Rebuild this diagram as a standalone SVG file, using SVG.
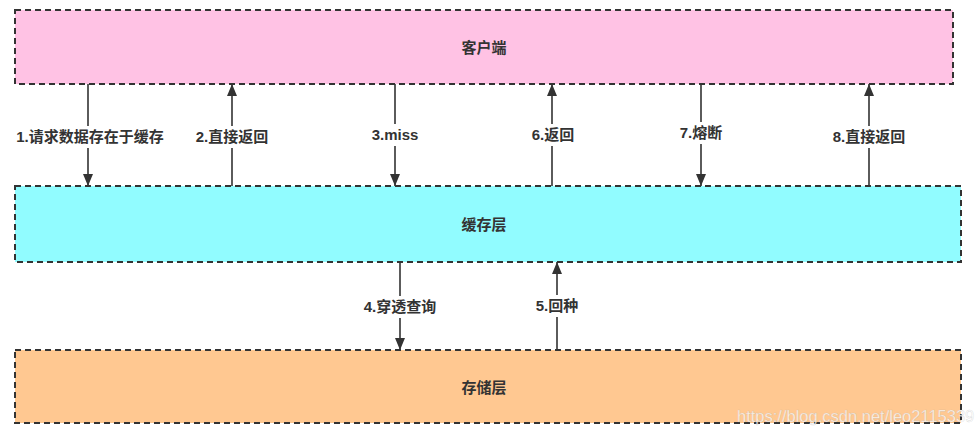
<svg xmlns="http://www.w3.org/2000/svg" width="977" height="436" viewBox="0 0 977 436">
<style>
.box{stroke:#333;stroke-width:2;stroke-dasharray:6 4}
.t{font-family:"Liberation Sans","Noto Sans CJK SC",sans-serif;font-size:15px;font-weight:bold;fill:#333;text-anchor:middle}
.c{stroke:#333;stroke-width:1.6;fill:none}
.lb{fill:#fff}
</style>
<defs>
<marker id="ahl" viewBox="0 0 12 10" refX="12" refY="5" markerWidth="13" markerHeight="10" markerUnits="userSpaceOnUse" orient="auto">
<path d="M0,0 L12,5 L0,10 Z" fill="#333"/>
</marker>
</defs>
<rect width="977" height="436" fill="#fff"/>
<g id="client">
<rect class="box" x="15" y="10" width="938" height="74" fill="#FFC2E4"/>
<text class="t" x="484" y="53">客户端</text>
</g>
<g id="cache">
<rect class="box" x="15" y="186" width="946" height="76" fill="#91FCFF"/>
<text class="t" x="484" y="230">缓存层</text>
</g>
<g id="storage">
<rect class="box" x="15" y="350" width="946" height="73" fill="#FFC891"/>
<text class="t" x="484" y="393">存储层</text>
</g>
<g id="connectors">
<line class="c" x1="88" y1="84" x2="88" y2="186" marker-end="url(#ahl)"/>
<line class="c" x1="232" y1="186" x2="232" y2="84" marker-end="url(#ahl)"/>
<line class="c" x1="395" y1="84" x2="395" y2="186" marker-end="url(#ahl)"/>
<line class="c" x1="552" y1="186" x2="552" y2="84" marker-end="url(#ahl)"/>
<line class="c" x1="701" y1="84" x2="701" y2="186" marker-end="url(#ahl)"/>
<line class="c" x1="869" y1="186" x2="869" y2="84" marker-end="url(#ahl)"/>
<line class="c" x1="400" y1="262" x2="400" y2="350" marker-end="url(#ahl)"/>
<line class="c" x1="557" y1="350" x2="557" y2="262" marker-end="url(#ahl)"/>
<rect class="lb" x="12" y="126" width="156" height="22"/>
<text class="t" x="90" y="142">1.请求数据存在于缓存</text>
<rect class="lb" x="193" y="126" width="78" height="22"/>
<text class="t" x="232" y="142">2.直接返回</text>
<rect class="lb" x="366" y="124" width="58" height="22"/>
<text class="t" x="395" y="140">3.miss</text>
<rect class="lb" x="527" y="124" width="52" height="22"/>
<text class="t" x="553" y="140">6.返回</text>
<rect class="lb" x="675" y="122" width="52" height="22"/>
<text class="t" x="701" y="138">7.熔断</text>
<rect class="lb" x="830" y="126" width="78" height="22"/>
<text class="t" x="869" y="142">8.直接返回</text>
<rect class="lb" x="359" y="296" width="82" height="22"/>
<text class="t" x="400" y="312">4.穿透查询</text>
<rect class="lb" x="531" y="295" width="52" height="22"/>
<text class="t" x="557" y="311">5.回种</text>
</g>
<text x="737" y="422" font-family="Liberation Sans, Arial, sans-serif" font-size="16.5" fill="#ffffff" fill-opacity="0.75" stroke="#999" stroke-opacity="0.35" stroke-width="0.5">https://blog.csdn.net/leo2115339</text>
</svg>
